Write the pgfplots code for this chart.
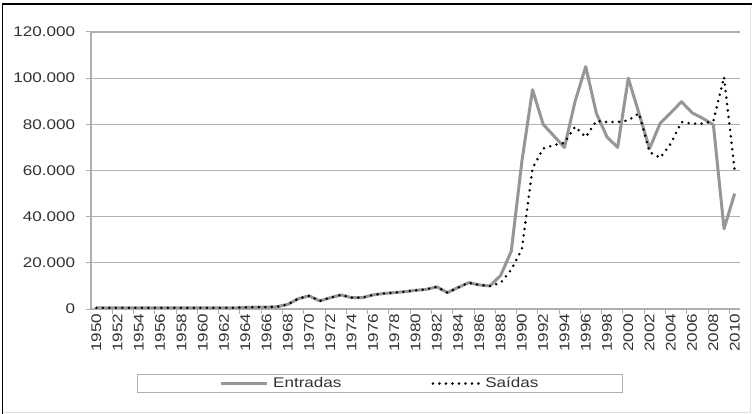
\documentclass[border=0pt]{standalone}
\usepackage{fontspec}
\setmainfont{Liberation Sans}[FakeStretch=1.22]
\usepackage{pgfplots}
\usepackage{pgfplotstable}
\pgfplotsset{compat=1.18}
\pgfplotstableread{
year ent sai
1950 500 500
1951 500 500
1952 500 500
1953 500 500
1954 500 500
1955 500 500
1956 500 500
1957 500 500
1958 500 500
1959 500 500
1960 500 500
1961 500 500
1962 500 500
1963 500 500
1964 700 700
1965 800 800
1966 800 800
1967 1000 1000
1968 2000 2000
1969 4500 4500
1970 5700 5700
1971 3500 3500
1972 4900 4900
1973 6100 6100
1974 4900 4900
1975 4900 4900
1976 6100 6100
1977 6700 6700
1978 7100 7100
1979 7500 7500
1980 8100 8100
1981 8500 8500
1982 9600 9600
1983 7100 7100
1984 9300 9300
1985 11400 11400
1986 10400 10400
1987 10000 10000
1988 14500 11300
1989 25000 17000
1990 64000 26000
1991 95000 61000
1992 80000 69500
1993 75000 71000
1994 70000 72000
1995 90000 79000
1996 105000 74500
1997 84800 81500
1998 74500 81000
1999 70000 81000
2000 100000 81700
2001 84800 84800
2002 69500 68000
2003 80500 65500
2004 85000 71700
2005 89800 81000
2006 85000 80300
2007 82600 80300
2008 79800 81500
2009 34800 100500
2010 50000 60000
}\datatable
\definecolor{entc}{RGB}{150,150,150}
\definecolor{gridc}{RGB}{175,175,175}
\begin{document}
\fontsize{14bp}{16bp}\selectfont
\begin{tikzpicture}
\useasboundingbox (0bp,0bp) rectangle (752bp,414bp);
\fill[white] (0bp,0bp) rectangle (752bp,414bp);
\draw[black!12, line width=1bp] (2bp,1.5bp) -- (750.5bp,1.5bp) -- (750.5bp,410bp);
\draw[black, line width=1.6bp] (2.5bp,0bp) -- (2.5bp,410bp) -- (752bp,410bp);
\begin{axis}[
  at={(91bp,105bp)}, anchor=south west,
  scale only axis, width=649bp, height=277bp,
  xmin=1949.5, xmax=2010.5, ymin=0, ymax=120000,
  axis lines*=left,
  axis line style={draw=gridc, line width=1.1bp, -},
  ymajorgrids, grid style={draw=gridc, line width=1.1bp},
  tick align=outside,
  major tick length=0bp, minor tick length=5bp,
  minor tick style={draw=gridc, line width=1bp},
  xtick={1950,1952,...,2010},
  minor xtick={1951.5,1953.5,...,2009.5},
  ytick={0,20000,...,120000},
  minor ytick={0,20000,...,120000},
  yticklabels={0,20.000,40.000,60.000,80.000,100.000,120.000},
  scaled y ticks=false,
  /pgf/number format/assume math mode=true,
  xticklabel style={/pgf/number format/1000 sep={}, rotate=90, anchor=east},
  yticklabel style={xshift=-11bp},
  tick label style={text=black!80},
  legend columns=2,
  legend style={at={(0.445,-0.269)}, anchor=center, draw=gridc, line width=0.9bp,
    inner xsep=82bp, inner ysep=1bp, text=black!80,
    /tikz/every odd column/.append style={column sep=3bp},
    /tikz/every even column/.append style={column sep=88bp}},
  legend image code/.code={\draw[#1] (0bp,0bp) -- (46bp,0bp);},
]
\addplot[entc, line width=3bp, line join=round] table[x=year, y=ent] {\datatable};
\addlegendentry{Entradas}
\addplot[black, line width=2.8bp, line cap=round, dash pattern=on 0bp off 6.5bp] table[x=year, y=sai] {\datatable};
\addlegendentry{Saídas}
\end{axis}
\end{tikzpicture}
\end{document}
